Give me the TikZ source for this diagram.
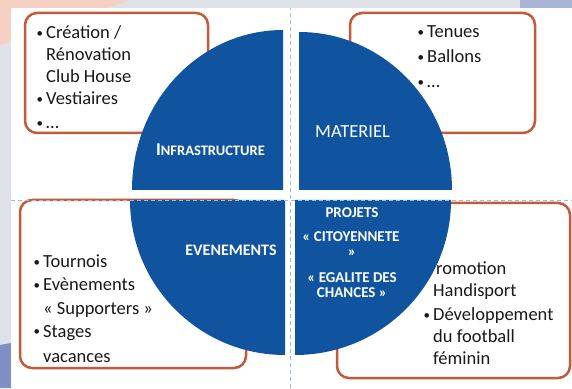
\documentclass[tikz,border=0pt]{standalone}
\usepackage{fontspec}
\setmainfont{Carlito}
\definecolor{qblue}{RGB}{16,84,160}
\definecolor{bord}{RGB}{196,90,58}
\definecolor{sepcol}{RGB}{150,190,215}
\definecolor{pinkbg}{RGB}{246,208,194}
\definecolor{graybg}{RGB}{222,225,232}
\definecolor{bluebg}{RGB}{125,143,195}
\definecolor{bluetop}{RGB}{170,180,212}
\definecolor{txt}{RGB}{25,25,25}
\newcommand{\bl}{\makebox[10pt][l]{\hspace{0.5pt}\raisebox{1.2pt}{\fontsize{13}{13}\selectfont\textbullet}}}
\begin{document}
\begin{tikzpicture}[x=1pt,y=1pt,
  itembox/.style={draw=bord, line width=2.5pt, fill=white, rounded corners=12pt},
  quad/.style={fill=qblue},
  body/.style={font=\fontsize{18.5}{22}\selectfont, text=txt, inner sep=0pt, anchor=base west},
  qlabel/.style={text=white, inner sep=0pt, anchor=base},
  projlabel/.style={text=white, inner sep=0pt, anchor=base, font=\bfseries\fontsize{15}{17}\selectfont},
  sepline/.style={draw=sepcol, line width=0.8pt, dash pattern=on 4pt off 3pt}]
\useasboundingbox (0,0) rectangle (572,388);
% background
\fill[graybg] (0,0) rectangle (572,388);
\fill[pinkbg] (0,388) -- (130,388) -- (0,343) -- cycle;
\fill[bluetop] (520,380) rectangle (572,388);
\fill[bluebg] (0,0) -- (0,43) -- (11,45) -- (11,0) -- cycle;
\fill[white] (11,0) rectangle (572,380);
% boxes
\draw[itembox] (25,255) rectangle (208,375);
\draw[itembox] (350,255) rectangle (535,375);
\draw[itembox] (20,20) rectangle (246,188);
\draw[itembox] (337,10) rectangle (570,185);
% texts
\node[body] (tl1) at (36,349) {\bl Création /};
\node[body] (tl2) at (46,327) {Rénovation};
\node[body] (tl3) at (46,305) {Club House};
\node[body] (tl4) at (36,283) {\bl Vestiaires};
\node[body] (tl5) at (36,259) {\bl …};
\node[body] (tr1) at (417,350) {\bl Tenues};
\node[body] (tr2) at (417,325) {\bl Ballons};
\node[body] (tr3) at (417,300) {\bl …};
\node[body] (bl1) at (33,120) {\bl Tournois};
\node[body] (bl2) at (33,97) {\bl Evènements};
\node[body] (bl3) at (43,74) {« Supporters »};
\node[body] (bl4) at (33,51) {\bl Stages};
\node[body] (bl5) at (43,26) {vacances};
\node[body] (br1) at (436,113) {romotion};
\node[body] (br2) at (433,92) {Handisport};
\node[body] (br3) at (423,67) {\bl Développement};
\node[body] (br4) at (433,46) {du football};
\node[body] (br5) at (433,24) {féminin};
% quadrants
\fill[quad] (283,198) -- ++(-151,0) arc[start angle=180,end angle=90,x radius=151,y radius=160] -- cycle;
\fill[quad] (299,198) -- ++(0,158) arc[start angle=90,end angle=0,x radius=153,y radius=158] -- cycle;
\fill[quad] (285,188) -- ++(-155,0) arc[start angle=180,end angle=270,x radius=155,y radius=155] -- cycle;
\fill[quad] (295,188) -- ++(156,0) arc[start angle=0,end angle=-90,x radius=156,y radius=155] -- cycle;
% separators
\draw[sepline] (290,0) -- (290,380);
\draw[sepline] (11,188) -- (572,188);
% quadrant labels
\node[qlabel, font=\bfseries] (infra) at (210.5,232) {{\fontsize{18}{20}\selectfont I}{\fontsize{14.5}{16}\selectfont NFRASTRUCTURE}};
\node[qlabel, font=\fontsize{18.5}{20}\selectfont] (mat) at (352.5,250) {MATERIEL};
\node[qlabel, font=\bfseries\fontsize{16}{18}\selectfont] (evt) at (231,132) {EVENEMENTS};
\node[projlabel] (p1) at (352,170) {PROJETS};
\node[projlabel] (p2) at (351,146) {« CITOYENNETE};
\node[projlabel] (p3) at (352,131) {»};
\node[projlabel] (p4) at (352,106) {« EGALITE DES};
\node[projlabel] (p5) at (352,90) {CHANCES »};
\end{tikzpicture}
\end{document}
